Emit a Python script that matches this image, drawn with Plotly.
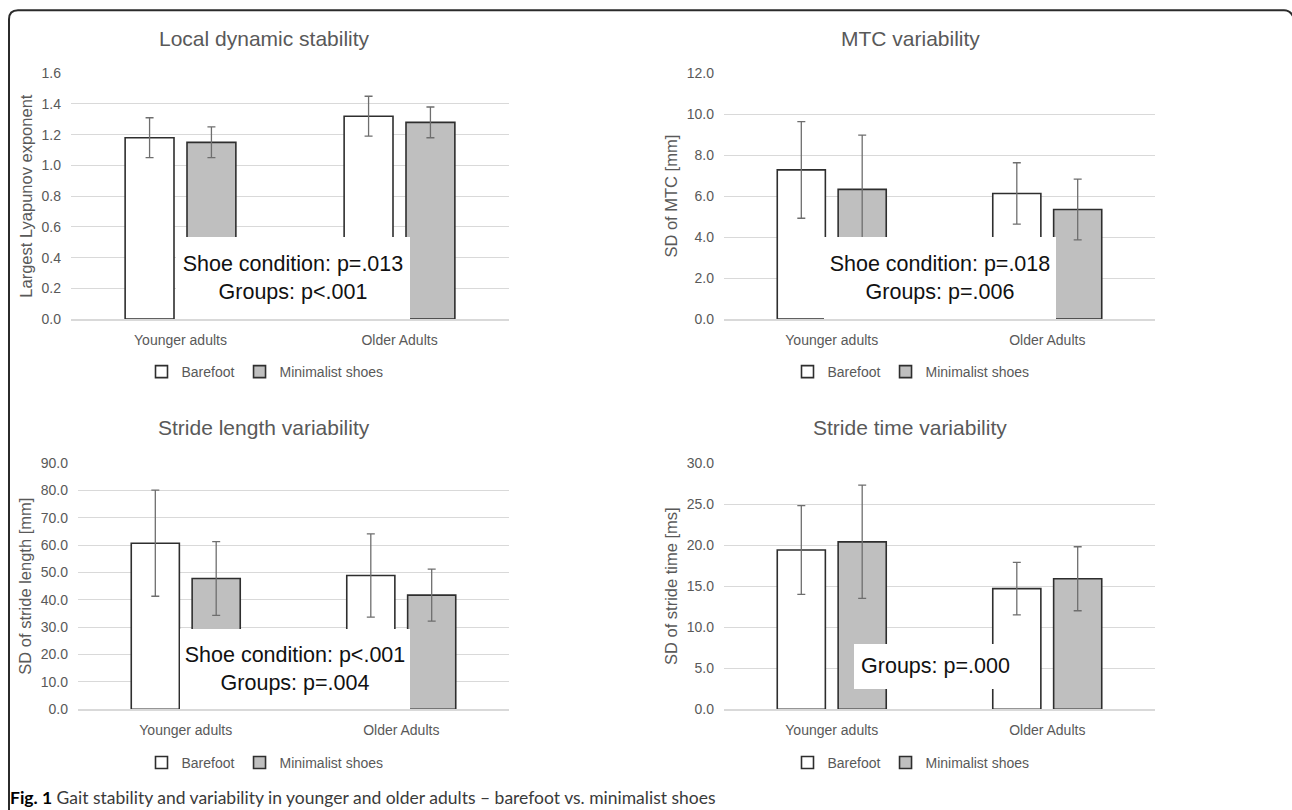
import plotly.graph_objects as go

# ---------------- data ----------------
categories = ["Younger adults", "Older Adults"]
series_names = ["Barefoot", "Minimalist shoes"]

lds_barefoot = [1.18, 1.32]
lds_barefoot_sd = [0.13, 0.13]
lds_minimal = [1.15, 1.28]
lds_minimal_sd = [0.10, 0.10]

mtc_barefoot = [7.28, 6.13]
mtc_barefoot_sd = [2.36, 1.50]
mtc_minimal = [6.33, 5.35]
mtc_minimal_sd = [2.65, 1.48]

sl_barefoot = [60.7, 48.9]
sl_barefoot_sd = [19.4, 15.2]
sl_minimal = [47.8, 41.7]
sl_minimal_sd = [13.5, 9.5]

st_barefoot = [19.4, 14.7]
st_barefoot_sd = [5.4, 3.2]
st_minimal = [20.4, 15.9]
st_minimal_sd = [6.9, 3.9]

panel_titles = ["Local dynamic stability", "MTC variability",
                "Stride length variability", "Stride time variability"]
y_titles = ["Largest Lyapunov exponent", "SD of MTC [mm]",
            "SD of stride length [mm]", "SD of stride time [ms]"]
y_max = [1.6, 12.0, 90.0, 30.0]
y_step = [0.2, 2.0, 10.0, 5.0]
stats_text = ["Shoe condition: p=.013<br>Groups: p<.001",
              "Shoe condition: p=.018<br>Groups: p=.006",
              "Shoe condition: p<.001<br>Groups: p=.004",
              "Groups: p=.000"]
caption = ("<span style='color:#000000'><b>Fig. 1</b></span> Gait stability and variability "
           "in younger and older adults \u2013 barefoot vs. minimalist shoes")

# ---------------- layout helpers ----------------
W, H = 1292, 810
# the page shows the drawing slightly shifted/compressed vertically; compensate
Y_OFF, Y_SCALE = 7.8, 0.9806
def px(x):
    return x / W
def py(y):
    return 1 - ((y - Y_OFF) / Y_SCALE) / H

FONT = "Liberation Sans, Arial, sans-serif"
GREY_TXT = "#595959"

# plot areas in (window) pixels: (left, right, top, bottom)
areas = [(71, 509, 73, 319), (724, 1155, 73, 319),
         (78, 509, 463, 709.3), (724, 1155, 463, 709.3)]
title_pos = [(264, 38), (910, 38), (264, 427), (910, 427)]
legend_pos = [(265, 372), (911, 372), (265, 763), (911, 763)]
# stats boxes: (center x px, bottom y px, width, height)
box_geom = [(293, 319, 234, 80), (940, 319, 232, 80),
            (295, 709.3, 230, 78), (935.5, 689, 163, 44)]

data = [
    (lds_barefoot, lds_barefoot_sd, lds_minimal, lds_minimal_sd),
    (mtc_barefoot, mtc_barefoot_sd, mtc_minimal, mtc_minimal_sd),
    (sl_barefoot, sl_barefoot_sd, sl_minimal, sl_minimal_sd),
    (st_barefoot, st_barefoot_sd, st_minimal, st_minimal_sd),
]

fig = go.Figure()
annotations = []
layout_axes = {}

for i in range(4):
    n = i + 1
    sfx = "" if n == 1 else str(n)
    xref, yref = "x" + sfx, "y" + sfx
    leg = "legend" + sfx
    b, bsd, m, msd = data[i]
    fig.add_trace(go.Bar(
        x=categories, y=b, name=series_names[0], xaxis=xref, yaxis=yref,
        legend=leg, offsetgroup="a",
        marker=dict(color="white", line=dict(color="#2e2e2e", width=1.6)),
        error_y=dict(type="data", array=bsd, color="#6e6e6e", thickness=1.3, width=4),
    ))
    fig.add_trace(go.Bar(
        x=categories, y=m, name=series_names[1], xaxis=xref, yaxis=yref,
        legend=leg, offsetgroup="b",
        marker=dict(color="#bfbfbf", line=dict(color="#2e2e2e", width=1.6)),
        error_y=dict(type="data", array=msd, color="#6e6e6e", thickness=1.3, width=4),
    ))
    l, r, t, btm = areas[i]
    layout_axes["xaxis" + sfx] = dict(
        domain=[px(l), px(r)], anchor=yref, type="category",
        showgrid=False, showline=True, linecolor="#d9d9d9", linewidth=1.5,
        ticks="", ticklabelstandoff=7,
        tickfont=dict(family=FONT, size=14, color=GREY_TXT),
        fixedrange=True,
    )
    layout_axes["yaxis" + sfx] = dict(
        domain=[py(btm), py(t)], anchor=xref, range=[0, y_max[i]],
        dtick=y_step[i], tick0=0, tickformat=".1f",
        showgrid=True, gridcolor="#d9d9d9", gridwidth=1.1,
        zeroline=False, showline=False, ticks="", ticklabelstandoff=9,
        tickfont=dict(family=FONT, size=14, color=GREY_TXT),
        title=dict(text=y_titles[i], standoff=4,
                   font=dict(family=FONT, size=16.5, color=GREY_TXT)),
        fixedrange=True,
    )
    lx, ly = legend_pos[i]
    layout_axes[leg] = dict(
        orientation="h", x=px(lx), y=py(ly), xanchor="center", yanchor="middle",
        xref="paper", yref="paper", bgcolor="rgba(0,0,0,0)",
        font=dict(family=FONT, size=14, color=GREY_TXT),
        itemwidth=30, tracegroupgap=0, itemclick=False, itemdoubleclick=False,
    )
    tx, ty = title_pos[i]
    annotations.append(dict(
        text=panel_titles[i], x=px(tx), y=py(ty), xref="paper", yref="paper",
        xanchor="center", yanchor="middle", showarrow=False,
        font=dict(family=FONT, size=21, color=GREY_TXT),
    ))
    cx, by, bw, bh = box_geom[i]
    annotations.append(dict(
        text=stats_text[i], x=px(cx), y=py(by), xref="paper", yref="paper",
        xanchor="center", yanchor="bottom", showarrow=False,
        width=bw, height=bh / Y_SCALE, bgcolor="white", borderpad=0, borderwidth=0,
        align="center", valign="middle",
        font=dict(family=FONT, size=21.5, color="#111111"),
    ))

annotations.append(dict(
    text=caption, x=px(8), y=py(798), xref="paper", yref="paper",
    xanchor="left", yanchor="middle", showarrow=False,
    font=dict(family="Lato, Open Sans, sans-serif", size=17.5, color="#3a3a3a"),
))

# rounded frame around the figure
frame_path = (f"M {px(9)},{py(830)} L {px(9)},{py(19)} "
              f"Q {px(9)},{py(10)} {px(18)},{py(10)} "
              f"L {px(1284)},{py(10)} Q {px(1290)},{py(10)} {px(1293)},{py(16)}")

fig.update_layout(
    width=W, height=H,
    margin=dict(l=0, r=0, t=0, b=0),
    paper_bgcolor="white", plot_bgcolor="white",
    barmode="group", bargap=0.435, bargroupgap=0.21,
    showlegend=True,
    annotations=annotations,
    shapes=[dict(type="path", path=frame_path, xref="paper", yref="paper",
                 line=dict(color="#2b2b2b", width=2))],
    **layout_axes,
)

fig.write_html("out.html", post_script="document.body.style.margin='0';",
               config={"displayModeBar": False})
